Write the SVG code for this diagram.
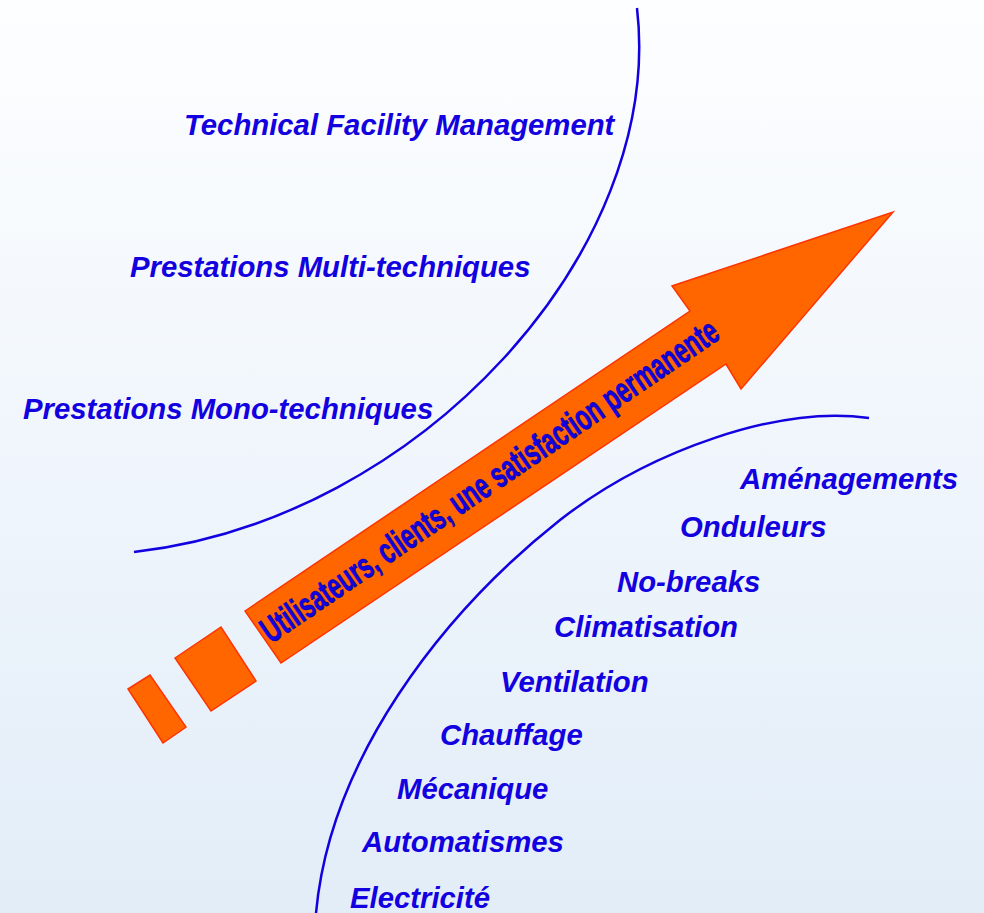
<svg xmlns="http://www.w3.org/2000/svg" width="984" height="913" viewBox="0 0 984 913">
  <defs>
    <linearGradient id="bg" x1="0" y1="0" x2="0" y2="1">
      <stop offset="0" stop-color="#FDFEFF"/>
      <stop offset="1" stop-color="#E2EDF8"/>
    </linearGradient>
    <style>
      .lbl { font-family: "Liberation Sans", Arial, sans-serif; font-weight: bold; font-style: italic; font-size: 29.3px; fill: #1200E0; }
      .curve { fill: none; stroke: #1200E0; stroke-width: 2.5; }
      .orange { fill: #FF6600; stroke: #FF3300; stroke-width: 1.5; stroke-linejoin: miter; }
      .arrowtxt { font-family: "Liberation Sans", Arial, sans-serif; font-weight: bold; font-size: 36px; fill: #1400E6; stroke: #0000A0; stroke-width: 0.8; }
    </style>
  </defs>
  <rect x="0" y="0" width="984" height="913" fill="url(#bg)"/>

  <g id="curves">
    <path id="upper-curve" class="curve" d="M637,8 C665,250 420,520 134,552"/>
    <path id="lower-curve" class="curve" d="M869,418 C780,405 650,450 560,520 C440,615 330,760 316,913"/>
  </g>

  <g id="arrow">
    <polygon class="orange" points="128,689 150,675 186,727 163,743"/>
    <polygon class="orange" points="175,658 221,627 256,681 211,711"/>
    <polygon class="orange" points="245,611 690,311 672,286 893,212 741,389 726,364 281,663"/>
    <text class="arrowtxt" transform="translate(271,644) rotate(-34.2)" x="0" y="0" textLength="545" lengthAdjust="spacingAndGlyphs">Utilisateurs, clients, une satisfaction permanente</text>
  </g>

  <g id="services-upper">
    <text class="lbl" x="184" y="135">Technical Facility Management</text>
    <text class="lbl" x="130" y="277">Prestations Multi-techniques</text>
    <text class="lbl" x="23" y="419">Prestations Mono-techniques</text>
  </g>

  <g id="services-lower">
    <text class="lbl" x="740" y="489">Aménagements</text>
    <text class="lbl" x="680" y="537">Onduleurs</text>
    <text class="lbl" x="617" y="592">No-breaks</text>
    <text class="lbl" x="554" y="637">Climatisation</text>
    <text class="lbl" x="500" y="692">Ventilation</text>
    <text class="lbl" x="440" y="745">Chauffage</text>
    <text class="lbl" x="397" y="799">Mécanique</text>
    <text class="lbl" x="362" y="852">Automatismes</text>
    <text class="lbl" x="350" y="908">Electricité</text>
  </g>
</svg>
